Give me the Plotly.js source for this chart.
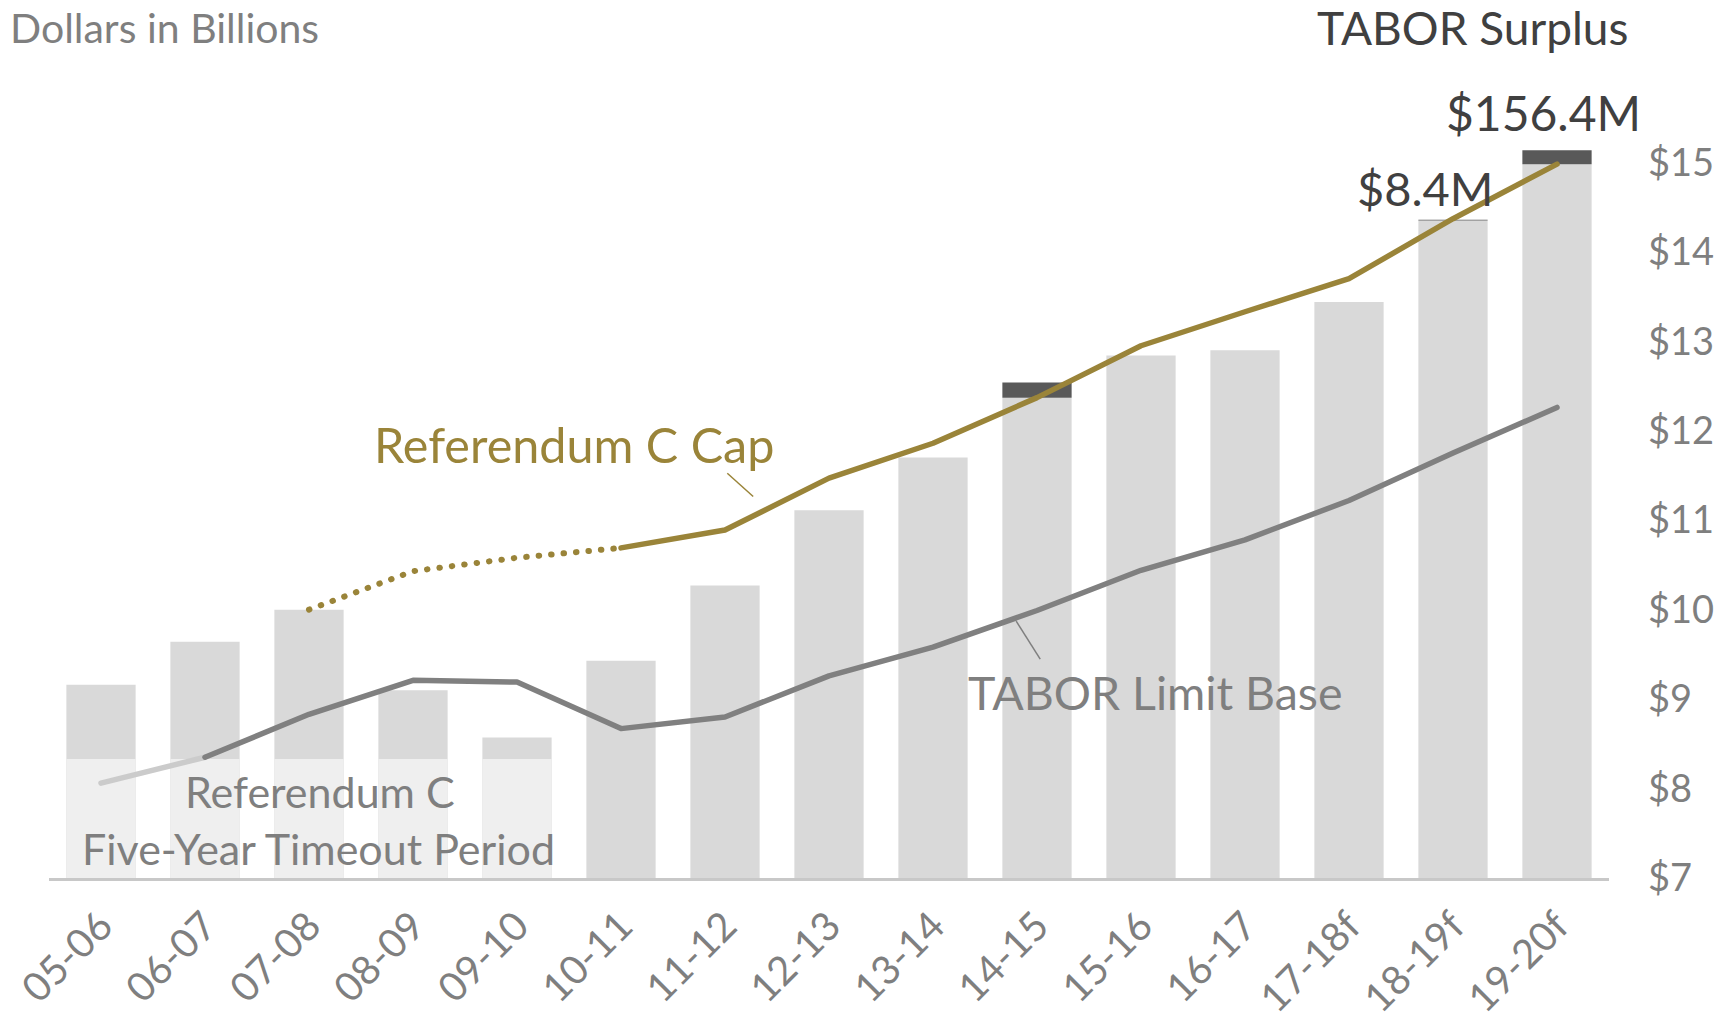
<!DOCTYPE html>
<html><head><meta charset="utf-8">
<script src="https://cdn.plot.ly/plotly-3.0.1.min.js"></script>
<style>
html,body{margin:0;padding:0;background:#fff;}
#chart{width:1732px;height:1026px;}
.scatterlayer .js-line{stroke-linecap:round;stroke-linejoin:round;}
</style></head><body><div id="chart"></div>
<script>
// ---- data (billions of dollars) ----
const categories = ['05-06','06-07','07-08','08-09','09-10','10-11','11-12','12-13','13-14','14-15','15-16','16-17','17-18f','18-19f','19-20f'];
const revenue = [9.16, 9.64, 10.00, 9.10, 8.57, 9.43, 10.27, 11.11, 11.70, 12.37, 12.84, 12.90, 13.44, 14.35, 14.98];
const surplus = [0, 0, 0, 0, 0, 0, 0, 0, 0, 0.17, 0, 0, 0, 0.0084, 0.1564];
const timeoutCategories = ['05-06','06-07','07-08','08-09','09-10'];
const timeoutLower = [8.33, 8.33, 8.33, 8.33, 8.33];
const taborLimitBase = [8.06, 8.35, 8.83, 9.21, 9.19, 8.67, 8.80, 9.26, 9.58, 9.99, 10.44, 10.78, 11.22, 11.75, 12.26];
const refCCap = [null, null, 10.00, 10.43, 10.58, 10.69, 10.89, 11.47, 11.86, 12.37, 12.95, 13.33, 13.70, 14.37, 14.98];
const yTicks = [7, 8, 9, 10, 11, 12, 13, 14, 15];
const yTickLabels = ['$7', '$8', '$9', '$10', '$11', '$12', '$13', '$14', '$15'];

const FONT = 'Lato, "Noto Sans", sans-serif';
const OLIVE = '#9a8439';
const GRAY = '#7f7f7f';

const traces = [
  {type:'bar', x:categories, y:revenue, marker:{color:'#d9d9d9'}, hoverinfo:'skip'},
  {type:'bar', x:timeoutCategories, y:timeoutLower, marker:{color:'#efefef'}, hoverinfo:'skip'},
  {type:'bar', x:categories, y:surplus, base:revenue, marker:{color:'#595959'}, hoverinfo:'skip'},
  {type:'scatter', mode:'lines', x:categories.slice(0,2), y:taborLimitBase.slice(0,2), line:{color:'#cbcbcb', width:5.5}, hoverinfo:'skip'},
  {type:'scatter', mode:'lines', x:categories.slice(1), y:taborLimitBase.slice(1), line:{color:'#808080', width:5.5}, hoverinfo:'skip'},
  {type:'scatter', mode:'lines', x:categories.slice(2,6), y:refCCap.slice(2,6), line:{color:OLIVE, width:6, dash:'0.5px,12px'}, hoverinfo:'skip'},
  {type:'scatter', mode:'lines', x:categories.slice(5), y:refCCap.slice(5), line:{color:OLIVE, width:5.5}, hoverinfo:'skip'}
];

function ann(text, x, y, size, color, xanchor, yanchor) {
  return {text:text, xref:'paper', yref:'paper', x:x, y:y, xanchor:xanchor||'center', yanchor:yanchor||'middle',
          showarrow:false, font:{family:FONT, size:size, color:color}};
}

const layout = {
  width:1732, height:1026,
  margin:{l:49, r:123, t:140, b:148},
  paper_bgcolor:'#fff', plot_bgcolor:'#fff',
  showlegend:false,
  barmode:'overlay', bargap:0.334,
  font:{family:FONT},
  xaxis:{type:'category', range:[-0.5,14.5], showgrid:false, zeroline:false,
         showline:true, linecolor:'#c8c8c8', linewidth:2.5, ticks:'',
         tickangle:-45, ticklabelstandoff:6,
         tickfont:{family:FONT, size:40, color:GRAY}},
  yaxis:{range:[7,15.25], side:'right', showgrid:false, zeroline:false, showline:false,
         ticks:'', tickmode:'array', tickvals:yTicks, ticktext:yTickLabels, ticklabelstandoff:38,
         tickfont:{family:FONT, size:38, color:GRAY}},
  annotations:[
    ann('Dollars in Billions', -0.0262, 1.1877, 41, GRAY, 'left', 'top'),
    ann('TABOR Surplus', 0.9128, 1.1525, 46, '#404040'),
    ann('$156.4M', 0.9583, 1.0374, 48, '#404040'),
    ann('$8.4M', 0.8821, 0.9345, 47, '#404040'),
    ann('Referendum C Cap', 0.3367, 0.5878, 48.5, OLIVE),
    ann('TABOR Limit Base', 0.7090, 0.2519, 46.5, GRAY),
    ann('Referendum C', 0.1736, 0.1178, 43, GRAY),
    ann('Five-Year Timeout Period', 0.1726, 0.0393, 43, GRAY)
  ],
  shapes:[
    {type:'line', xref:'paper', yref:'paper', x0:0.4348, y0:0.5485, x1:0.4514, y1:0.5170, line:{color:OLIVE, width:1.5}},
    {type:'line', xref:'paper', yref:'paper', x0:0.6200, y0:0.3480, x1:0.6354, y1:0.2966, line:{color:GRAY, width:1.5}}
  ]
};

Plotly.newPlot('chart', traces, layout, {displayModeBar:false, staticPlot:true});
</script></body></html>
